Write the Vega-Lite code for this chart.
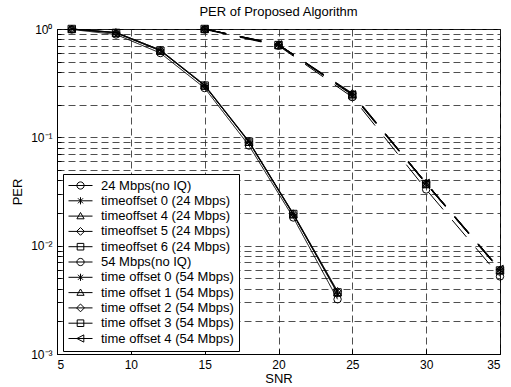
{
  "$schema": "https://vega.github.io/schema/vega-lite/v6.json",
  "width": 443,
  "height": 325,
  "autosize": "none",
  "padding": {"left": 57, "top": 29, "right": 11, "bottom": 33},
  "background": "white",
  "config": {
    "font": "Liberation Sans",
    "view": {"stroke": "black", "strokeWidth": 1},
    "axis": {
      "labelFont": "Liberation Sans", "labelFontSize": 12, "labelColor": "black",
      "titleFont": "Liberation Sans", "titleFontSize": 13, "titleFontWeight": "normal", "titleColor": "black",
      "domainColor": "black", "tickColor": "black",
      "gridColor": "#222", "gridDash": [7, 4], "gridWidth": 0.8, "gridOpacity": 1
    },
    "title": {"font": "Liberation Sans", "fontSize": 13, "fontWeight": "normal", "color": "black"}
  },
  "title": {"text": "PER of Proposed Algorithm", "offset": 4},
  "data": {"values": [
    {"s": "24 Mbps(no IQ)", "rate": "24", "snr": 6, "per": 0.99},
    {"s": "24 Mbps(no IQ)", "rate": "24", "snr": 9, "per": 0.89},
    {"s": "24 Mbps(no IQ)", "rate": "24", "snr": 12, "per": 0.60},
    {"s": "24 Mbps(no IQ)", "rate": "24", "snr": 15, "per": 0.285},
    {"s": "24 Mbps(no IQ)", "rate": "24", "snr": 18, "per": 0.084},
    {"s": "24 Mbps(no IQ)", "rate": "24", "snr": 21, "per": 0.0182},
    {"s": "24 Mbps(no IQ)", "rate": "24", "snr": 24, "per": 0.0032},
    {"s": "timeoffset 0 (24 Mbps)", "rate": "24", "snr": 6, "per": 1.0},
    {"s": "timeoffset 0 (24 Mbps)", "rate": "24", "snr": 9, "per": 0.93},
    {"s": "timeoffset 0 (24 Mbps)", "rate": "24", "snr": 12, "per": 0.64},
    {"s": "timeoffset 0 (24 Mbps)", "rate": "24", "snr": 15, "per": 0.30},
    {"s": "timeoffset 0 (24 Mbps)", "rate": "24", "snr": 18, "per": 0.091},
    {"s": "timeoffset 0 (24 Mbps)", "rate": "24", "snr": 21, "per": 0.0195},
    {"s": "timeoffset 0 (24 Mbps)", "rate": "24", "snr": 24, "per": 0.0036},
    {"s": "timeoffset 4 (24 Mbps)", "rate": "24", "snr": 6, "per": 1.0},
    {"s": "timeoffset 4 (24 Mbps)", "rate": "24", "snr": 9, "per": 0.92},
    {"s": "timeoffset 4 (24 Mbps)", "rate": "24", "snr": 12, "per": 0.63},
    {"s": "timeoffset 4 (24 Mbps)", "rate": "24", "snr": 15, "per": 0.30},
    {"s": "timeoffset 4 (24 Mbps)", "rate": "24", "snr": 18, "per": 0.090},
    {"s": "timeoffset 4 (24 Mbps)", "rate": "24", "snr": 21, "per": 0.0193},
    {"s": "timeoffset 4 (24 Mbps)", "rate": "24", "snr": 24, "per": 0.0037},
    {"s": "timeoffset 5 (24 Mbps)", "rate": "24", "snr": 6, "per": 1.0},
    {"s": "timeoffset 5 (24 Mbps)", "rate": "24", "snr": 9, "per": 0.93},
    {"s": "timeoffset 5 (24 Mbps)", "rate": "24", "snr": 12, "per": 0.64},
    {"s": "timeoffset 5 (24 Mbps)", "rate": "24", "snr": 15, "per": 0.305},
    {"s": "timeoffset 5 (24 Mbps)", "rate": "24", "snr": 18, "per": 0.092},
    {"s": "timeoffset 5 (24 Mbps)", "rate": "24", "snr": 21, "per": 0.0198},
    {"s": "timeoffset 5 (24 Mbps)", "rate": "24", "snr": 24, "per": 0.0038},
    {"s": "timeoffset 6 (24 Mbps)", "rate": "24", "snr": 6, "per": 1.0},
    {"s": "timeoffset 6 (24 Mbps)", "rate": "24", "snr": 9, "per": 0.92},
    {"s": "timeoffset 6 (24 Mbps)", "rate": "24", "snr": 12, "per": 0.63},
    {"s": "timeoffset 6 (24 Mbps)", "rate": "24", "snr": 15, "per": 0.30},
    {"s": "timeoffset 6 (24 Mbps)", "rate": "24", "snr": 18, "per": 0.091},
    {"s": "timeoffset 6 (24 Mbps)", "rate": "24", "snr": 21, "per": 0.0196},
    {"s": "timeoffset 6 (24 Mbps)", "rate": "24", "snr": 24, "per": 0.0037},
    {"s": "54 Mbps(no IQ)", "rate": "54", "snr": 15, "per": 0.99},
    {"s": "54 Mbps(no IQ)", "rate": "54", "snr": 20, "per": 0.70},
    {"s": "54 Mbps(no IQ)", "rate": "54", "snr": 25, "per": 0.235},
    {"s": "54 Mbps(no IQ)", "rate": "54", "snr": 30, "per": 0.033},
    {"s": "54 Mbps(no IQ)", "rate": "54", "snr": 35, "per": 0.0052},
    {"s": "time offset 0 (54 Mbps)", "rate": "54", "snr": 15, "per": 1.0},
    {"s": "time offset 0 (54 Mbps)", "rate": "54", "snr": 20, "per": 0.72},
    {"s": "time offset 0 (54 Mbps)", "rate": "54", "snr": 25, "per": 0.25},
    {"s": "time offset 0 (54 Mbps)", "rate": "54", "snr": 30, "per": 0.038},
    {"s": "time offset 0 (54 Mbps)", "rate": "54", "snr": 35, "per": 0.0060},
    {"s": "time offset 1 (54 Mbps)", "rate": "54", "snr": 15, "per": 1.0},
    {"s": "time offset 1 (54 Mbps)", "rate": "54", "snr": 20, "per": 0.71},
    {"s": "time offset 1 (54 Mbps)", "rate": "54", "snr": 25, "per": 0.25},
    {"s": "time offset 1 (54 Mbps)", "rate": "54", "snr": 30, "per": 0.037},
    {"s": "time offset 1 (54 Mbps)", "rate": "54", "snr": 35, "per": 0.0059},
    {"s": "time offset 2 (54 Mbps)", "rate": "54", "snr": 15, "per": 1.0},
    {"s": "time offset 2 (54 Mbps)", "rate": "54", "snr": 20, "per": 0.72},
    {"s": "time offset 2 (54 Mbps)", "rate": "54", "snr": 25, "per": 0.255},
    {"s": "time offset 2 (54 Mbps)", "rate": "54", "snr": 30, "per": 0.038},
    {"s": "time offset 2 (54 Mbps)", "rate": "54", "snr": 35, "per": 0.0060},
    {"s": "time offset 3 (54 Mbps)", "rate": "54", "snr": 15, "per": 1.0},
    {"s": "time offset 3 (54 Mbps)", "rate": "54", "snr": 20, "per": 0.71},
    {"s": "time offset 3 (54 Mbps)", "rate": "54", "snr": 25, "per": 0.245},
    {"s": "time offset 3 (54 Mbps)", "rate": "54", "snr": 30, "per": 0.037},
    {"s": "time offset 3 (54 Mbps)", "rate": "54", "snr": 35, "per": 0.0059},
    {"s": "time offset 4 (54 Mbps)", "rate": "54", "snr": 15, "per": 1.0},
    {"s": "time offset 4 (54 Mbps)", "rate": "54", "snr": 20, "per": 0.72},
    {"s": "time offset 4 (54 Mbps)", "rate": "54", "snr": 25, "per": 0.25},
    {"s": "time offset 4 (54 Mbps)", "rate": "54", "snr": 30, "per": 0.038},
    {"s": "time offset 4 (54 Mbps)", "rate": "54", "snr": 35, "per": 0.0061}
  ]},
  "encoding": {
    "x": {
      "field": "snr", "type": "quantitative",
      "scale": {"domain": [5, 35], "nice": false, "zero": false},
      "axis": {"title": "SNR", "values": [5, 10, 15, 20, 25, 30, 35], "grid": true, "tickSize": -5, "labelPadding": 10, "titlePadding": 2, "domain": true}
    },
    "y": {
      "field": "per", "type": "quantitative",
      "scale": {"type": "log", "domain": [0.001, 1], "nice": false},
      "axis": {
        "title": "PER", "grid": true, "tickSize": -4, "labelPadding": 9, "titlePadding": 6,
        "values": [0.001, 0.002, 0.003, 0.004, 0.005, 0.006, 0.007, 0.008, 0.009, 0.01, 0.02, 0.03, 0.04, 0.05, 0.06, 0.07, 0.08, 0.09, 0.1, 0.2, 0.3, 0.4, 0.5, 0.6, 0.7, 0.8, 0.9, 1],
        "labelExpr": "datum.value == 1 ? '10⁰' : datum.value == 0.1 ? '10⁻¹' : datum.value == 0.01 ? '10⁻²' : datum.value == 0.001 ? '10⁻³' : ''",
        "labelOverlap": false
      }
    }
  },
  "layer": [
    {
      "mark": {"type": "line", "color": "black", "strokeWidth": 1},
      "encoding": {
        "detail": {"field": "s"},
        "strokeDash": {"field": "rate", "type": "nominal", "scale": {"domain": ["24", "54"], "range": [[1, 0], [22, 14]]}, "legend": null}
      }
    },
    {
      "mark": {"type": "point", "filled": false, "color": "black", "strokeWidth": 1, "size": 55, "opacity": 1},
      "encoding": {
        "shape": {
          "field": "s", "type": "nominal", "legend": null,
          "scale": {
            "domain": ["24 Mbps(no IQ)", "timeoffset 0 (24 Mbps)", "timeoffset 4 (24 Mbps)", "timeoffset 5 (24 Mbps)", "timeoffset 6 (24 Mbps)", "54 Mbps(no IQ)", "time offset 0 (54 Mbps)", "time offset 1 (54 Mbps)", "time offset 2 (54 Mbps)", "time offset 3 (54 Mbps)", "time offset 4 (54 Mbps)"],
            "range": ["circle", "M0,-1V1M-1,0H1M-0.7,-0.7L0.7,0.7M-0.7,0.7L0.7,-0.7", "triangle-up", "diamond", "square", "circle", "M0,-1V1M-1,0H1M-0.7,-0.7L0.7,0.7M-0.7,0.7L0.7,-0.7", "triangle-up", "diamond", "square", "triangle-left"]
          }
        }
      }
    },
    {
      "transform": [{"filter": "datum.snr > 1000"}],
      "mark": {"type": "point", "filled": false, "color": "black", "strokeWidth": 1, "opacity": 1},
      "encoding": {
        "shape": {
          "field": "s", "type": "nominal",
          "scale": {
            "domain": ["24 Mbps(no IQ)", "timeoffset 0 (24 Mbps)", "timeoffset 4 (24 Mbps)", "timeoffset 5 (24 Mbps)", "timeoffset 6 (24 Mbps)", "54 Mbps(no IQ)", "time offset 0 (54 Mbps)", "time offset 1 (54 Mbps)", "time offset 2 (54 Mbps)", "time offset 3 (54 Mbps)", "time offset 4 (54 Mbps)"],
            "range": [
              "M-1,0H3M1.6,0A0.6,0.6 0 1,1 0.4,0A0.6,0.6 0 1,1 1.6,0",
              "M-1,0H3M1,-0.6V0.6M0.58,-0.42L1.42,0.42M0.58,0.42L1.42,-0.42",
              "M-1,0H3M1,-0.6L1.6,0.45L0.4,0.45Z",
              "M-1,0H3M1,-0.65L1.65,0L1,0.65L0.35,0Z",
              "M-1,0H3M0.45,-0.55H1.55V0.55H0.45Z",
              "M-1,0H3M1.6,0A0.6,0.6 0 1,1 0.4,0A0.6,0.6 0 1,1 1.6,0",
              "M-1,0H3M1,-0.6V0.6M0.58,-0.42L1.42,0.42M0.58,0.42L1.42,-0.42",
              "M-1,0H3M1,-0.6L1.6,0.45L0.4,0.45Z",
              "M-1,0H3M1,-0.65L1.65,0L1,0.65L0.35,0Z",
              "M-1,0H3M0.45,-0.55H1.55V0.55H0.45Z",
              "M-1,0H3M0.4,0L1.55,-0.6L1.55,0.6Z"
            ]
          },
          "legend": {
            "title": null, "orient": "none", "legendX": 6, "legendY": 145,
            "padding": 5, "strokeColor": "black", "fillColor": "white",
            "symbolSize": 144, "symbolStrokeWidth": 1, "symbolStrokeColor": "black", "symbolFillColor": "transparent", "symbolOpacity": 1,
            "labelFont": "Liberation Sans", "labelFontSize": 13, "labelColor": "black", "labelOffset": 20,
            "rowPadding": 1.3, "labelLimit": 300
          }
        }
      }
    }
  ],
  "resolve": {"scale": {"shape": "independent"}}
}
